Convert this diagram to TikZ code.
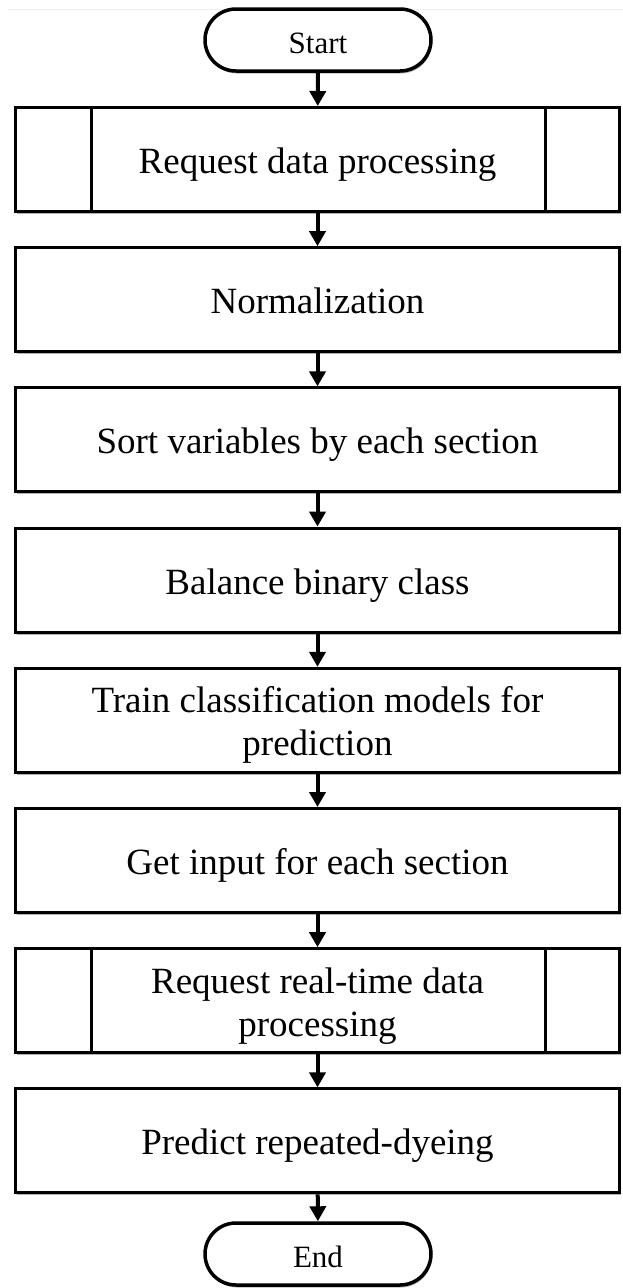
\documentclass[tikz,border=0pt]{standalone}
\usepackage{fontspec}
\setmainfont{Liberation Serif}
\usetikzlibrary{arrows.meta,shadows}

\begin{document}
\begin{tikzpicture}[x=1pt,y=-1pt,
  shade box/.style={drop shadow={shadow xshift=1pt,shadow yshift=-2.5pt,fill=black,opacity=0.3}},
  stepbox/.style={draw,line width=3pt,fill=white,shade box,minimum width=604pt,minimum height=104pt,
    inner sep=0pt,align=center,font=\fontsize{37}{43}\selectfont,text height=28pt,text depth=0pt},
  twoline/.style={text height=71pt,text depth=0pt},
  terminal/.style={draw,line width=3.5pt,fill=white,shade box,rounded corners=31pt,
    minimum width=226pt,minimum height=62pt,inner sep=0pt,font=\fontsize{31}{38}\selectfont,
    text height=27pt,text depth=0pt},
  flow/.style={line width=4pt,-{Triangle[length=15pt,width=16pt]}},
  side/.style={line width=3pt}]
  \useasboundingbox (0,0) rectangle (623,1288);
  \fill[white] (0,0) rectangle (623,1288);
  % faint rule along the top edge
  \draw[gray!12,line width=1pt] (8,9) -- (623,9);

  \node[terminal] (start) at (318,40) {Start};
  \node[stepbox] (s1) at (317.5,159.5) {Request data processing};
  \node[stepbox] (s2) at (317.5,299.7) {Normalization};
  \node[stepbox] (s3) at (317.5,439.9) {Sort variables by each section};
  \node[stepbox] (s4) at (317.5,580.1) {Balance binary class};
  \node[stepbox,twoline] (s5) at (317.5,720.3) {Train classification models for\\prediction};
  \node[stepbox] (s6) at (317.5,860.5) {Get input for each section};
  \node[stepbox,twoline] (s7) at (317.5,1000.7) {Request real-time data\\processing};
  \node[stepbox] (s8) at (317.5,1140.9) {Predict repeated-dyeing};
  \node[terminal] (end) at (318,1254) {End};

  % side bars of the predefined-process boxes
  \foreach \b in {s1,s7}{
    \draw[side] (\b.north -| 91,0) -- (\b.south -| 91,0);
    \draw[side] (\b.north -| 545,0) -- (\b.south -| 545,0);
  }

  \draw[flow] (start) -- (s1);
  \draw[flow] (s1) -- (s2);
  \draw[flow] (s2) -- (s3);
  \draw[flow] (s3) -- (s4);
  \draw[flow] (s4) -- (s5);
  \draw[flow] (s5) -- (s6);
  \draw[flow] (s6) -- (s7);
  \draw[flow] (s7) -- (s8);
  \draw[flow] (s8) -- (end);
\end{tikzpicture}
\end{document}
